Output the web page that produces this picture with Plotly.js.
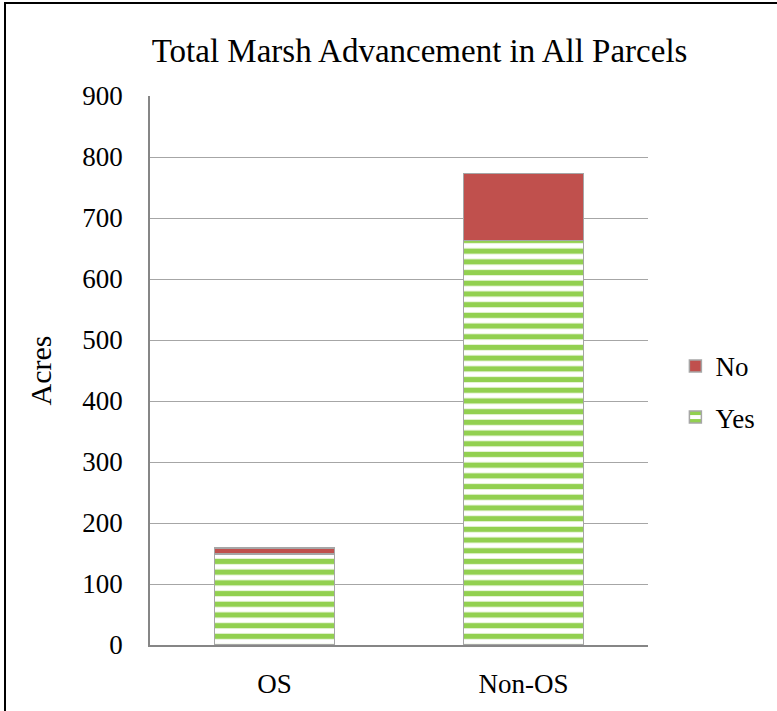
<!DOCTYPE html>
<html>
<head>
<meta charset="utf-8">
<script src="https://cdn.plot.ly/plotly-3.0.1.min.js"></script>
<style>
    body {margin: 0; background: #fff;}
    #wrap {position: relative; width: 777px; height: 711px;}
    #chart {width: 777px; height: 711px;}
    #frame {position: absolute; left: 4px; top: 2px; width: 780px; height: 720px;
        border: 2px solid #000; pointer-events: none;}
</style>
</head>
<body>
<div id="wrap">
    <div id="chart"></div>
    <div id="frame"></div>
</div>
<script>
const categories = ["OS", "Non-OS"];
const yesAcres = [149, 663];
const noAcres = [10, 110];
const yTicks = [0, 100, 200, 300, 400, 500, 600, 700, 800, 900];

const serif = "Liberation Serif, Times New Roman, serif";

const traces = [
    {
        x: categories, y: yesAcres, type: "bar", name: "Yes", legendgroup: "yes", legendrank: 2,
        marker: {
            color: "#ffffff",
            pattern: {shape: "-", fgcolor: "#92d050", bgcolor: "#ffffff", size: 10.7, solidity: 0.5},
            line: {color: "#a6a6a6", width: 1.5}
        },
        hoverinfo: "x+y+name"
    },
    {
        x: categories, y: noAcres, type: "bar", name: "No", legendgroup: "no", legendrank: 1,
        marker: {color: "#c0504d", line: {color: "#a6a6a6", width: 1.5}},
        hoverinfo: "x+y+name"
    }
];

const layout = {
    width: 777,
    height: 711,
    barmode: "stack",
    bargap: 0.52,
    paper_bgcolor: "#ffffff",
    plot_bgcolor: "#ffffff",
    margin: {t: 96, r: 129, b: 66, l: 150},
    font: {family: serif, color: "#000000", size: 27},
    title: {
        text: "Total Marsh Advancement in All Parcels",
        font: {family: serif, size: 33, color: "#000000"},
        x: 0.54, xanchor: "center",
        y: 1 - 50 / 711, yanchor: "middle", yref: "container"
    },
    xaxis: {
        showgrid: false,
        showline: true, linecolor: "#868686", linewidth: 1.5,
        ticks: "", ticklabelstandoff: 14,
        tickfont: {family: serif, size: 27}
    },
    yaxis: {
        range: [0, 900],
        tickvals: yTicks,
        showgrid: true, gridcolor: "#a6a6a6", gridwidth: 1.3,
        showline: true, linecolor: "#868686", linewidth: 1.5,
        zeroline: false,
        ticks: "", ticklabelstandoff: 20,
        tickfont: {family: serif, size: 27},
        title: {text: "Acres", font: {family: serif, size: 30}, standoff: 22}
    },
    legend: {
        x: 1.055, xanchor: "left",
        y: 0.461, yanchor: "middle",
        traceorder: "grouped",
        tracegroupgap: 13,
        font: {family: serif, size: 27},
        bgcolor: "rgba(0,0,0,0)"
    },
    showlegend: true
};

Plotly.newPlot("chart", traces, layout, {displayModeBar: false});
</script>
</body>
</html>
